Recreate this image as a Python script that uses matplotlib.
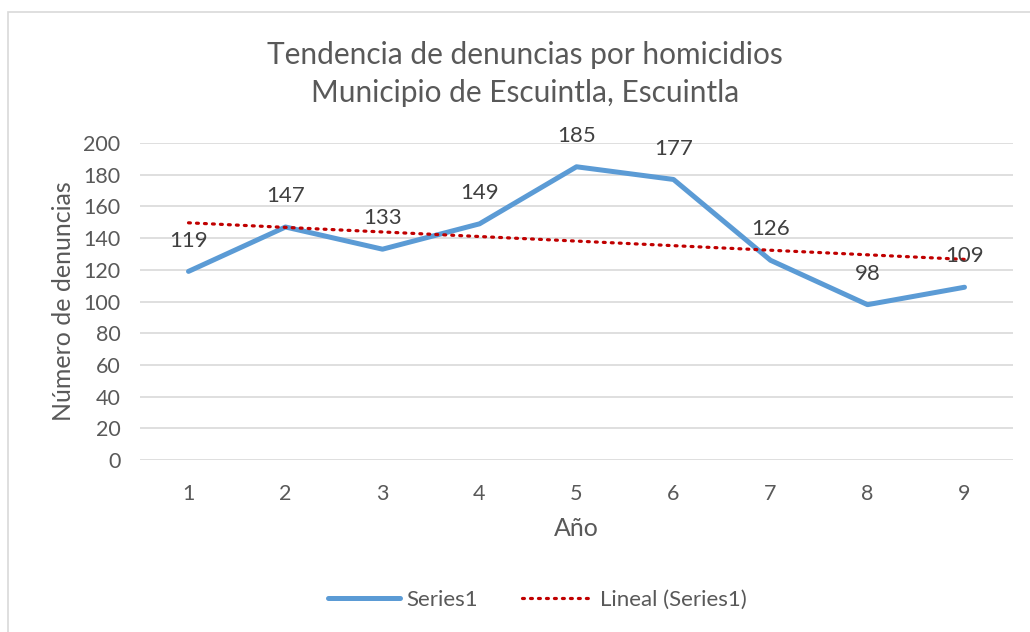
import numpy as np
import matplotlib
matplotlib.use("Agg")
from matplotlib import pyplot as plt
from matplotlib.patches import Rectangle

# denuncias por homicidio, por año
anios = [1, 2, 3, 4, 5, 6, 7, 8, 9]
denuncias = [119, 147, 133, 149, 185, 177, 126, 98, 109]
y_ticks = [0, 20, 40, 60, 80, 100, 120, 140, 160, 180, 200]

plt.rcParams['font.family'] = ['Lato', 'DejaVu Sans']
gris = "#595959"

fig = plt.figure(figsize=(10.3, 6.32), dpi=100)
fig.patches.append(Rectangle((8 / 1030, -0.1), 1.1, 1 - 12 / 632 + 0.1,
                             transform=fig.transFigure, fill=False,
                             edgecolor="#D9D9D9", linewidth=1.2))

ax = fig.add_axes([140 / 1030, 1 - 460 / 632, (1013 - 140) / 1030, (460 - 143) / 632])

x = np.array(anios)
y = np.array(denuncias)
ax.plot(x, y, color="#5B9BD5", linewidth=3.6, solid_capstyle="round",
        label="Series1", zorder=3)

# línea de tendencia lineal
m, b = np.polyfit(x, y, 1)
ax.plot(x, m * x + b, color="#C00000", linewidth=2.3, linestyle=(0, (0.6, 1.9)),
        dash_capstyle="round", label="Lineal (Series1)", zorder=4)

for xi, yi in zip(anios, denuncias):
    ax.annotate(str(yi), (xi, yi), xytext=(0, 15), textcoords="offset points",
                ha="center", va="bottom", fontsize=16, color="#404040", zorder=5)

ax.set_xlim(0.5, 9.5)
ax.set_ylim(0, 200)
ax.set_xticks(anios)
ax.set_yticks(y_ticks)
ax.tick_params(axis="both", length=0, labelsize=15.5, labelcolor=gris)
ax.tick_params(axis="x", pad=17)
ax.tick_params(axis="y", pad=14)
ax.grid(axis="y", color="#D9D9D9", linewidth=1.2)
ax.set_axisbelow(True)
for s in ax.spines.values():
    s.set_visible(False)

ax.set_xlabel("Año", fontsize=18, color=gris, labelpad=10)
ax.set_ylabel("Número de denuncias", fontsize=18, color=gris, labelpad=6)

fig.text(525 / 1030, 1 - 55 / 632, "Tendencia de denuncias por homicidios",
         ha="center", va="center", fontsize=21.5, color=gris)
fig.text(525 / 1030, 1 - 93 / 632, "Municipio de Escuintla, Escuintla",
         ha="center", va="center", fontsize=21.5, color=gris)

fig.legend(loc="center", bbox_to_anchor=(0.522, 1 - 600 / 632), ncol=2,
           frameon=False, fontsize=16, labelcolor=gris, handlelength=3.2,
           columnspacing=2.0, handletextpad=0.3)

plt.savefig("out.png", dpi=100)
